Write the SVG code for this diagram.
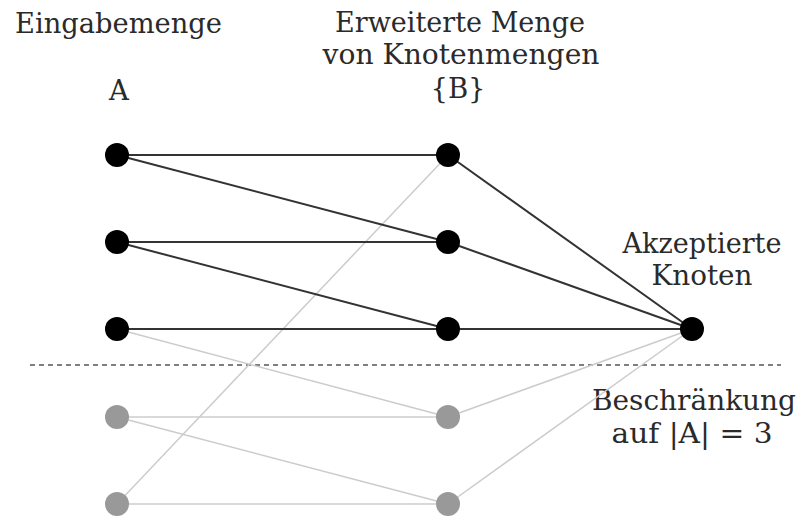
<svg xmlns="http://www.w3.org/2000/svg" width="803" height="523" viewBox="0 0 803 523">
<style>
text{font-family:"DejaVu Serif","Liberation Serif",serif;font-size:27.5px;fill:#2a2a2a;text-anchor:middle}
.e{stroke:#333;stroke-width:2;fill:none}
.g{stroke:#ccc;stroke-width:1.5;fill:none}
.n{fill:#000}
.m{fill:#999}
</style>
<rect width="803" height="523" fill="#fff"/>
<g id="labels">
<text x="118.5" y="33" textLength="207" lengthAdjust="spacingAndGlyphs">Eingabemenge</text>
<text x="119" y="100">A</text>
<text x="460" y="32" textLength="250" lengthAdjust="spacingAndGlyphs">Erweiterte Menge</text>
<text x="461" y="64" textLength="277" lengthAdjust="spacingAndGlyphs">von Knotenmengen</text>
<text x="458" y="98">{B}</text>
<text x="702" y="253" textLength="159" lengthAdjust="spacingAndGlyphs">Akzeptierte</text>
<text x="702" y="285" textLength="101" lengthAdjust="spacingAndGlyphs">Knoten</text>
<text x="694" y="410" textLength="204" lengthAdjust="spacingAndGlyphs">Beschränkung</text>
<text x="692" y="443" textLength="161" lengthAdjust="spacingAndGlyphs">auf |A| = 3</text>
</g>
<line x1="30" y1="365" x2="781" y2="365" stroke="#555" stroke-width="1.5" stroke-dasharray="5,4"/>
<g id="connectors">
<line class="g" x1="117" y1="329" x2="448" y2="417"/>
<line class="g" x1="117" y1="417" x2="448" y2="417"/>
<line class="g" x1="117" y1="417" x2="448" y2="504"/>
<line class="g" x1="117" y1="504" x2="448" y2="504"/>
<line class="g" x1="117" y1="504" x2="448" y2="155"/>
<line class="g" x1="448" y1="417" x2="692" y2="329"/>
<line class="g" x1="448" y1="504" x2="692" y2="329"/>
<line class="e" x1="117" y1="155" x2="448" y2="155"/>
<line class="e" x1="117" y1="155" x2="448" y2="242"/>
<line class="e" x1="117" y1="242" x2="448" y2="242"/>
<line class="e" x1="117" y1="242" x2="448" y2="329"/>
<line class="e" x1="117" y1="329" x2="448" y2="329"/>
<line class="e" x1="448" y1="155" x2="692" y2="329"/>
<line class="e" x1="448" y1="242" x2="692" y2="329"/>
<line class="e" x1="448" y1="329" x2="692" y2="329"/>
</g>
<g id="a1"><circle class="n" cx="117" cy="155" r="12"/></g>
<g id="a2"><circle class="n" cx="117" cy="242" r="12"/></g>
<g id="a3"><circle class="n" cx="117" cy="329" r="12"/></g>
<g id="a4"><circle class="m" cx="117" cy="417" r="12"/></g>
<g id="a5"><circle class="m" cx="117" cy="504" r="12"/></g>
<g id="b1"><circle class="n" cx="448" cy="155" r="12"/></g>
<g id="b2"><circle class="n" cx="448" cy="242" r="12"/></g>
<g id="b3"><circle class="n" cx="448" cy="329" r="12"/></g>
<g id="b4"><circle class="m" cx="448" cy="417" r="12"/></g>
<g id="b5"><circle class="m" cx="448" cy="504" r="12"/></g>
<g id="c"><circle class="n" cx="692" cy="329" r="12"/></g>
</svg>
